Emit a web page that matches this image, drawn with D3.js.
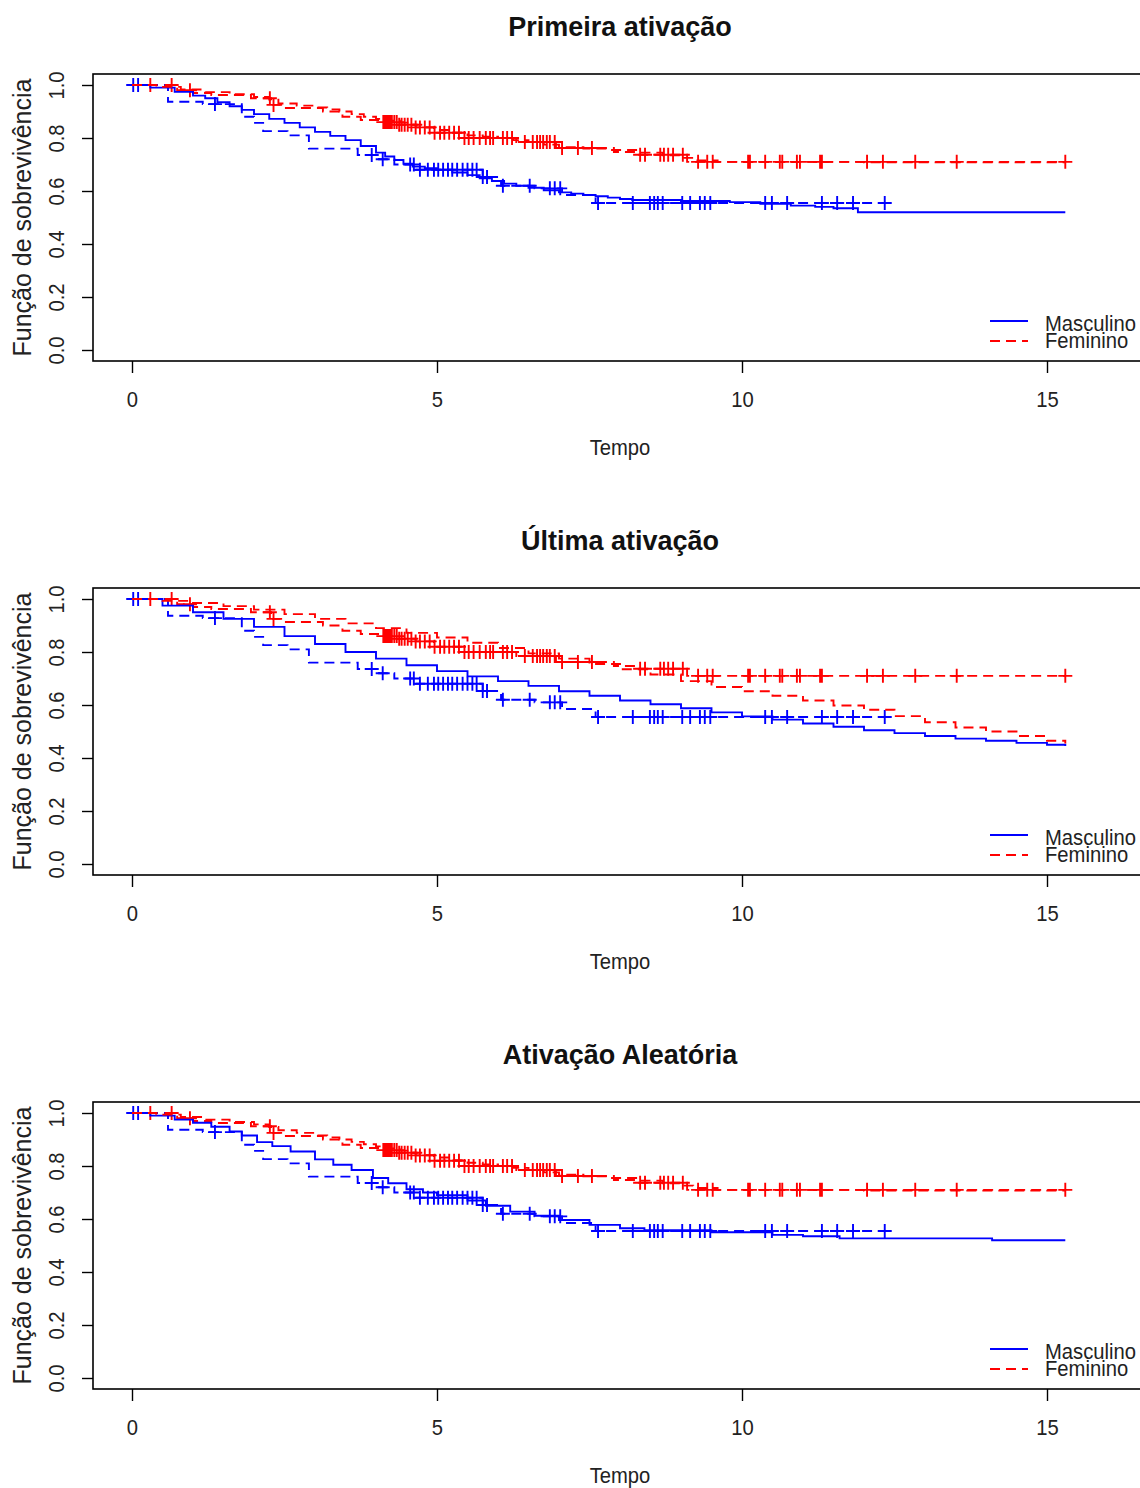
<!DOCTYPE html>
<html>
<head>
<meta charset="utf-8">
<script src="https://cdn.jsdelivr.net/npm/d3@7"></script>
<style>
  body { margin: 0; background: #fff; }
  svg { display: block; }
</style>
</head>
<body>
<svg id="chart" width="1140" height="1488"></svg>
<script>
// ticks, titles, legend
const timeTicks = [0, 5, 10, 15];
const survTicks = [0, 0.2, 0.4, 0.6, 0.8, 1.0];
const panelTitles = ['Primeira ativação', 'Última ativação', 'Ativação Aleatória'];
const groupNames = ['Masculino', 'Feminino'];

// Kaplan-Meier (same in every panel)
const kmMascT = [0, 0.59, 1.16, 1.8, 2.0, 2.15, 2.55, 2.9, 3.7, 4.05, 4.3, 4.65, 5.75, 6.05, 6.6, 7.05, 7.6];
const kmMascS = [1.0, 0.937, 0.928, 0.88, 0.857, 0.826, 0.81, 0.76, 0.736, 0.72, 0.70, 0.68, 0.653, 0.62, 0.61, 0.585, 0.555];
const kmMascEnd = 12.4;
const kmFemT = [0, 0.74, 1.0, 1.3, 1.95, 2.28, 2.5, 3.13, 3.45, 3.75, 4.05, 4.35, 4.65, 4.95, 5.4, 6.3, 6.95, 7.9, 8.3, 9.1];
const kmFemS = [1.0, 0.98, 0.97, 0.962, 0.95, 0.925, 0.913, 0.90, 0.88, 0.868, 0.86, 0.85, 0.84, 0.82, 0.80, 0.785, 0.762, 0.747, 0.737, 0.71];
const kmFemEnd = 15.3;

// censoring times
const censMasc = [0.02, 0.1, 1.36, 3.93, 4.11, 4.56, 4.62, 4.72, 4.85, 4.95, 5.02, 5.1, 5.18, 5.25, 5.33, 5.42, 5.5,
  5.58, 5.65, 5.75, 5.82, 6.08, 6.52, 6.85, 6.93, 7.02, 7.64, 8.21, 8.49, 8.56, 8.62, 8.70, 9.02, 9.15, 9.31, 9.39,
  9.48, 10.38, 10.49, 10.74, 11.31, 11.56, 11.82, 12.34];
const censFem = [0.3, 0.65, 0.95, 2.26, 2.32, 4.12, 4.15, 4.18, 4.2, 4.23, 4.26, 4.3, 4.34, 4.38, 4.42, 4.47, 4.52,
  4.58, 4.65, 4.72, 4.8, 4.88, 4.96, 5.05, 5.12, 5.2, 5.28, 5.36, 5.45, 5.52, 5.6, 5.7, 5.8, 5.87, 5.92, 6.08, 6.15,
  6.23, 6.44, 6.57, 6.64, 6.69, 6.74, 6.8, 6.85, 6.93, 7.05, 7.31, 7.54, 8.33, 8.41, 8.66, 8.72, 8.79, 8.87, 9.03,
  9.28, 9.43, 9.52, 10.1, 10.13, 10.38, 10.62, 10.66, 10.9, 10.95, 11.28, 11.31, 12.05, 12.31, 12.84, 13.52, 15.3];

// fitted curves, one pair per panel
const fitMasc1T = [0, 0.3, 0.7, 1.0, 1.2, 1.4, 1.6, 1.8, 2.0, 2.25, 2.5, 2.75, 3.0, 3.25, 3.5, 3.75, 4.0, 4.15, 4.3,
  4.45, 4.6, 4.8, 5.0, 5.25, 5.5, 5.7, 5.9, 6.1, 6.3, 6.5, 6.75, 7.0, 7.2, 7.4, 7.6, 7.8, 8.0, 8.2, 9.0, 9.8, 10.3,
  10.8, 11.2, 11.5, 11.9, 15.3];
const fitMasc1S = [1.0, 0.99, 0.974, 0.96, 0.95, 0.935, 0.92, 0.906, 0.89, 0.872, 0.857, 0.84, 0.823, 0.808, 0.792,
  0.77, 0.745, 0.73, 0.717, 0.703, 0.692, 0.686, 0.68, 0.67, 0.66, 0.648, 0.638, 0.628, 0.62, 0.612, 0.603, 0.595,
  0.59, 0.585, 0.58, 0.575, 0.57, 0.566, 0.562, 0.558, 0.552, 0.545, 0.54, 0.535, 0.52, 0.52];
const fitFem1T = [0, 0.4, 0.8, 1.2, 1.6, 2.0, 2.25, 2.4, 2.7, 3.0, 3.2, 3.4, 3.6, 3.8, 4.0, 4.2, 4.4, 4.6, 4.8, 5.0,
  5.25, 5.5, 5.75, 6.0, 6.25, 6.5, 6.75, 7.0, 7.4, 7.8, 8.3, 8.7, 9.0, 9.2, 9.6, 12.0, 15.3];
const fitFem1S = [1.0, 0.993, 0.983, 0.973, 0.965, 0.955, 0.945, 0.93, 0.922, 0.915, 0.908, 0.9, 0.89, 0.88, 0.872,
  0.865, 0.858, 0.85, 0.84, 0.83, 0.82, 0.81, 0.805, 0.80, 0.792, 0.785, 0.775, 0.765, 0.76, 0.755, 0.745, 0.735,
  0.725, 0.715, 0.71, 0.708, 0.708];

const fitMasc2T = [0, 0.5, 1.0, 1.5, 2.0, 2.5, 3.0, 3.5, 4.0, 4.5, 5.0, 5.5, 6.0, 6.5, 7.0, 7.5, 8.0, 8.5, 9.0, 9.5,
  10.0, 10.5, 11.0, 11.5, 12.0, 12.5, 13.0, 13.5, 14.0, 14.5, 15.0, 15.3];
const fitMasc2S = [1.0, 0.975, 0.95, 0.925, 0.895, 0.86, 0.83, 0.80, 0.775, 0.75, 0.728, 0.708, 0.69, 0.672, 0.652,
  0.635, 0.617, 0.603, 0.588, 0.572, 0.557, 0.545, 0.53, 0.518, 0.505, 0.494, 0.483, 0.473, 0.465, 0.457, 0.45, 0.445];
const fitFem2T = [0, 0.5, 1, 1.5, 2, 2.5, 3, 3.5, 4, 4.5, 5, 5.5, 6, 6.5, 7, 7.5, 8, 8.5, 9, 9.5, 10, 10.5, 11, 11.5,
  12, 12.5, 13, 13.5, 14, 14.5, 15, 15.3];
const fitFem2S = [1.0, 0.993, 0.985, 0.973, 0.96, 0.943, 0.925, 0.908, 0.89, 0.872, 0.855, 0.835, 0.815, 0.795,
  0.775, 0.755, 0.735, 0.715, 0.69, 0.668, 0.652, 0.635, 0.617, 0.598, 0.582, 0.558, 0.535, 0.515, 0.5, 0.483, 0.465,
  0.455];

const fitMasc3T = [0, 0.3, 0.7, 1.0, 1.3, 1.6, 1.8, 2.05, 2.3, 2.6, 3.0, 3.3, 3.6, 3.95, 4.2, 4.5, 4.77, 5.0, 5.5,
  5.8, 6.2, 6.6, 7.0, 7.5, 8.0, 8.4, 9.5, 10.5, 11.0, 11.6, 14.1, 15.3];
const fitMasc3S = [1.0, 0.99, 0.975, 0.963, 0.948, 0.93, 0.915, 0.89, 0.875, 0.855, 0.825, 0.805, 0.785, 0.755,
  0.735, 0.712, 0.70, 0.69, 0.67, 0.65, 0.628, 0.612, 0.596, 0.578, 0.565, 0.558, 0.55, 0.54, 0.535, 0.527, 0.52, 0.52];
const fitFem3T = [0, 0.4, 0.8, 1.2, 1.6, 2.0, 2.25, 2.4, 2.7, 3.0, 3.2, 3.4, 3.6, 3.8, 4.0, 4.2, 4.4, 4.6, 4.8, 5.0,
  5.25, 5.5, 5.75, 6.0, 6.25, 6.5, 6.75, 7.0, 7.4, 7.8, 8.3, 8.7, 9.0, 9.2, 9.6, 12.0, 15.3];
const fitFem3S = [1.0, 0.994, 0.985, 0.975, 0.966, 0.957, 0.947, 0.935, 0.925, 0.915, 0.908, 0.9, 0.891, 0.882,
  0.874, 0.866, 0.858, 0.85, 0.841, 0.832, 0.822, 0.812, 0.806, 0.80, 0.793, 0.785, 0.776, 0.767, 0.761, 0.755, 0.745,
  0.735, 0.726, 0.717, 0.71, 0.707, 0.707];

const panels = [
  { title: panelTitles[0], masc: [fitMasc1T, fitMasc1S], fem: [fitFem1T, fitFem1S] },
  { title: panelTitles[1], masc: [fitMasc2T, fitMasc2S], fem: [fitFem2T, fitFem2S] },
  { title: panelTitles[2], masc: [fitMasc3T, fitMasc3S], fem: [fitFem3T, fitFem3S] },
];

const font = '"Liberation Sans", Arial, sans-serif';
const blue = '#0000ff';
const red = '#ff0000';
const dash = '10,6';
const narrow = 'scale(0.92,1)';
const textSize = '22px';

const svg = d3.select('#chart');
const left = 93;
const right = 1147;
const boxH = 287;
const panelStep = 514;
const firstTop = 74;

const x = d3.scaleLinear().domain([0, 15]).range([132, 1047]);
const y = d3.scaleLinear().domain([0, 1]).range([276, 11]);

const stepLine = d3.line()
  .x((d) => x(d[0]))
  .y((d) => y(d[1]))
  .curve(d3.curveStepAfter);

const pairs = (T, S, end) => T.map((t, i) => [t, S[i]]).concat(end != null ? [[end, S[S.length - 1]]] : []);
const survAt = (T, S, t) => S[Math.max(0, d3.bisectRight(T, t) - 1)];

function drawCensor(g, times, T, S, color) {
  g.append('path')
    .attr('fill', 'none')
    .attr('stroke', color)
    .attr('stroke-width', 1.9)
    .attr('d', times.map((t) => {
      const px = x(t);
      const py = y(survAt(T, S, t));
      return `M${px - 7},${py}H${px + 7}M${px},${py - 7}V${py + 7}`;
    }).join(''));
}

panels.forEach((p, i) => {
  const g = svg.append('g').attr('transform', `translate(0,${firstTop + i * panelStep})`);

  // Kaplan-Meier, dashed
  g.append('path')
    .attr('fill', 'none').attr('stroke', red).attr('stroke-width', 1.9).attr('stroke-dasharray', dash)
    .attr('d', stepLine(pairs(kmFemT, kmFemS, kmFemEnd)));
  g.append('path')
    .attr('fill', 'none').attr('stroke', blue).attr('stroke-width', 1.9).attr('stroke-dasharray', dash)
    .attr('d', stepLine(pairs(kmMascT, kmMascS, kmMascEnd)));
  drawCensor(g, censFem, kmFemT, kmFemS, red);
  drawCensor(g, censMasc, kmMascT, kmMascS, blue);

  // fitted curves
  g.append('path')
    .attr('fill', 'none').attr('stroke', blue).attr('stroke-width', 1.9)
    .attr('d', stepLine(pairs(p.masc[0], p.masc[1])));
  g.append('path')
    .attr('fill', 'none').attr('stroke', red).attr('stroke-width', 1.9).attr('stroke-dasharray', dash)
    .attr('d', stepLine(pairs(p.fem[0], p.fem[1])));

  // box
  g.append('rect')
    .attr('x', left).attr('y', 0)
    .attr('width', right - left).attr('height', boxH)
    .attr('fill', 'none').attr('stroke', '#000').attr('stroke-width', 1.6);

  // x axis
  g.append('g')
    .attr('transform', `translate(0,${boxH})`)
    .call(d3.axisBottom(x).tickValues(timeTicks).tickSize(12))
    .call((a) => a.select('.domain').remove())
    .call((a) => a.selectAll('.tick line').attr('stroke', '#000').attr('stroke-width', 1.4))
    .call((a) => a.selectAll('.tick text')
      .attr('y', 38).attr('dy', '0.35em')
      .attr('transform', narrow)
      .style('font-family', font).style('font-size', textSize).attr('fill', '#222'));

  // y axis, labels rotated
  g.append('g')
    .attr('transform', `translate(${left},0)`)
    .call(d3.axisLeft(y).tickValues(survTicks).tickSize(11).tickFormat(d3.format('.1f')))
    .call((a) => a.select('.domain').remove())
    .call((a) => a.selectAll('.tick line').attr('stroke', '#000').attr('stroke-width', 1.4))
    .call((a) => a.selectAll('.tick text')
      .attr('x', null).attr('dy', '0.35em')
      .attr('text-anchor', 'middle')
      .attr('transform', `translate(-37,0) rotate(-90) ${narrow}`)
      .style('font-family', font).style('font-size', textSize).attr('fill', '#222'));

  // titles
  g.append('text')
    .attr('x', (left + right) / 2).attr('y', -47).attr('dy', '0.35em')
    .attr('text-anchor', 'middle')
    .style('font-family', font).style('font-size', '27px').style('font-weight', 'bold')
    .attr('fill', '#111')
    .text(p.title);

  g.append('text')
    .attr('transform', `translate(${(left + right) / 2},${boxH + 86}) ${narrow}`)
    .attr('dy', '0.35em')
    .attr('text-anchor', 'middle')
    .style('font-family', font).style('font-size', textSize)
    .attr('fill', '#222')
    .text('Tempo');

  g.append('text')
    .attr('transform', `translate(22,${boxH / 2}) rotate(-90)`)
    .attr('dy', '0.35em')
    .attr('text-anchor', 'middle')
    .style('font-family', font).style('font-size', '25px')
    .attr('fill', '#222')
    .text('Função de sobrevivência');

  // legend
  const leg = g.append('g');
  const legY = [247, 267];
  const legColor = [blue, red];
  groupNames.forEach((name, k) => {
    leg.append('line')
      .attr('x1', 990).attr('x2', 1028).attr('y1', legY[k]).attr('y2', legY[k])
      .attr('stroke', legColor[k]).attr('stroke-width', 1.9)
      .attr('stroke-dasharray', k === 1 ? dash : null);
    leg.append('text')
      .attr('transform', `translate(1045,${legY[k] + (k === 0 ? 2 : -1)}) ${narrow}`)
      .attr('dy', '0.35em')
      .style('font-family', font).style('font-size', textSize)
      .attr('fill', '#222')
      .text(name);
  });
});
</script>
</body>
</html>
